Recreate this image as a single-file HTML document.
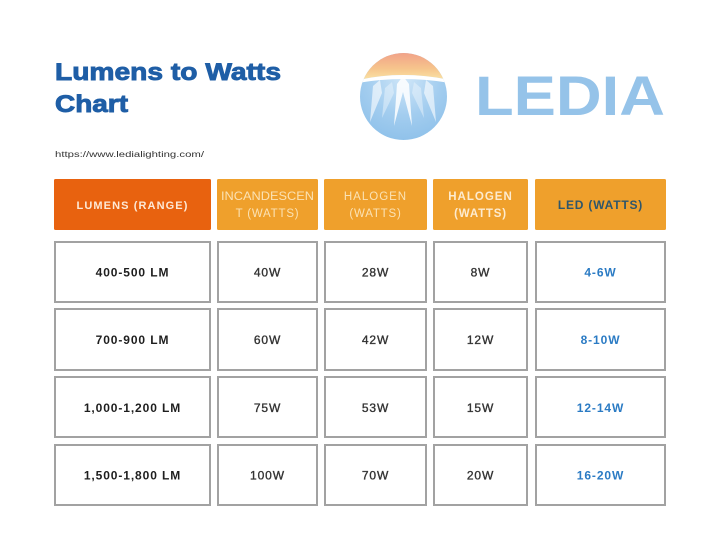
<!DOCTYPE html>
<html>
<head>
<meta charset="utf-8">
<style>
  html,body{margin:0;padding:0;background:#fff;}
  body{width:720px;height:539px;overflow:hidden;}
  svg{display:block;}
  text{font-family:"Liberation Sans",Arial,sans-serif;}
</style>
</head>
<body>
<svg width="720" height="539" viewBox="0 0 720 539" xmlns="http://www.w3.org/2000/svg">
  <defs>
    <linearGradient id="cap" x1="0" y1="0" x2="0" y2="1">
      <stop offset="0" stop-color="#f1a088"/>
      <stop offset="0.6" stop-color="#f6c58c"/>
      <stop offset="1" stop-color="#fae3a6"/>
    </linearGradient>
    <radialGradient id="blue" cx="0.5" cy="0.3" r="0.8">
      <stop offset="0" stop-color="#cfe6f8"/>
      <stop offset="0.5" stop-color="#a3cdef"/>
      <stop offset="1" stop-color="#88bde8"/>
    </radialGradient>
    <clipPath id="circ"><circle cx="403.5" cy="96.5" r="43.5"/></clipPath>
  </defs>

  <rect width="720" height="539" fill="#ffffff"/>

  <!-- Title -->
  <text x="55" y="80" font-size="24" font-weight="bold" fill="#1f5ea6" stroke="#1f5ea6" stroke-width="0.9" textLength="226" lengthAdjust="spacingAndGlyphs">Lumens to Watts</text>
  <text x="55" y="112" font-size="24" font-weight="bold" fill="#1f5ea6" stroke="#1f5ea6" stroke-width="0.9" textLength="73" lengthAdjust="spacingAndGlyphs">Chart</text>
  <text x="55" y="157" font-size="8" fill="#333" textLength="149" lengthAdjust="spacingAndGlyphs">https://www.ledialighting.com/</text>

  <!-- Logo circle -->
  <g clip-path="url(#circ)">
    <rect x="358" y="52" width="92" height="90" fill="url(#blue)"/>
    <path d="M358 52 H450 V80 Q403 70 358 80 Z" fill="url(#cap)"/>
    <path d="M358 80 Q403 70 450 80 L450 83 Q403 75 358 83 Z" fill="#ffffff"/>
    <!-- white rays -->
    <polygon points="403,76 397,84 394,126 403,92 412,126 409,84" fill="#ffffff" opacity="0.85"/>
    <polygon points="380,80 373,86 370,122 382,93" fill="#ffffff" opacity="0.6"/>
    <polygon points="426,80 433,86 436,122 424,93" fill="#ffffff" opacity="0.6"/>
    <polygon points="392,82 385,88 382,118 394,93" fill="#eaf4fc" opacity="0.5"/>
    <polygon points="414,82 421,88 424,118 412,93" fill="#eaf4fc" opacity="0.5"/>
  </g>
  <text x="475" y="115" font-size="56" font-weight="bold" fill="#95c3e9" textLength="190" lengthAdjust="spacingAndGlyphs">LEDIA</text>

  <!-- Header row -->
  <rect x="54" y="179" width="157" height="51" rx="1.5" fill="#e8620f"/>
  <rect x="217" y="179" width="101" height="51" rx="1.5" fill="#efa02c"/>
  <rect x="324" y="179" width="103" height="51" rx="1.5" fill="#efa02c"/>
  <rect x="433" y="179" width="95" height="51" rx="1.5" fill="#efa02c"/>
  <rect x="535" y="179" width="131" height="51" rx="1.5" fill="#efa02c"/>

  <text x="132.5" y="209" font-size="11" font-weight="bold" fill="#fde9d6" text-anchor="middle" letter-spacing="1.1">LUMENS  (RANGE)</text>
  <text x="267.5" y="200" font-size="11.5" fill="#fbe2b4" text-anchor="middle" textLength="93" lengthAdjust="spacingAndGlyphs">INCANDESCEN</text>
  <text x="267.5" y="217" font-size="11.5" fill="#fbe2b4" text-anchor="middle" letter-spacing="0.8">T (WATTS)</text>
  <text x="375.5" y="200" font-size="11.5" fill="#fbe2b4" text-anchor="middle" letter-spacing="1">HALOGEN</text>
  <text x="375.5" y="217" font-size="11.5" fill="#fbe2b4" text-anchor="middle" letter-spacing="0.8">(WATTS)</text>
  <text x="480.5" y="200" font-size="11.5" font-weight="bold" fill="#fdebcf" text-anchor="middle" letter-spacing="1">HALOGEN</text>
  <text x="480.5" y="217" font-size="11.5" font-weight="bold" fill="#fdebcf" text-anchor="middle" letter-spacing="0.8">(WATTS)</text>
  <text x="600.5" y="209" font-size="12" font-weight="bold" fill="#2e566b" text-anchor="middle" letter-spacing="0.8">LED (WATTS)</text>

  <!-- Body cells -->
  <g fill="#ffffff" stroke="#a2a2a2" stroke-width="2">
    <rect x="55" y="242" width="155" height="60"/>
    <rect x="218" y="242" width="99" height="60"/>
    <rect x="325" y="242" width="101" height="60"/>
    <rect x="434" y="242" width="93" height="60"/>
    <rect x="536" y="242" width="129" height="60"/>

    <rect x="55" y="309" width="155" height="61"/>
    <rect x="218" y="309" width="99" height="61"/>
    <rect x="325" y="309" width="101" height="61"/>
    <rect x="434" y="309" width="93" height="61"/>
    <rect x="536" y="309" width="129" height="61"/>

    <rect x="55" y="377" width="155" height="60"/>
    <rect x="218" y="377" width="99" height="60"/>
    <rect x="325" y="377" width="101" height="60"/>
    <rect x="434" y="377" width="93" height="60"/>
    <rect x="536" y="377" width="129" height="60"/>

    <rect x="55" y="445" width="155" height="60"/>
    <rect x="218" y="445" width="99" height="60"/>
    <rect x="325" y="445" width="101" height="60"/>
    <rect x="434" y="445" width="93" height="60"/>
    <rect x="536" y="445" width="129" height="60"/>
  </g>

  <!-- Row texts -->
  <g font-size="12" text-anchor="middle" letter-spacing="0.9">
    <g font-weight="bold" fill="#1e1e1e">
      <text x="132.5" y="276.5">400-500 LM</text>
      <text x="132.5" y="344">700-900 LM</text>
      <text x="132.5" y="412">1,000-1,200 LM</text>
      <text x="132.5" y="479.5">1,500-1,800 LM</text>
    </g>
    <g fill="#333333" stroke="#333333" stroke-width="0.35">
      <text x="267.5" y="276.5">40W</text>
      <text x="375.5" y="276.5">28W</text>
      <text x="480.5" y="276.5">8W</text>
      <text x="267.5" y="344">60W</text>
      <text x="375.5" y="344">42W</text>
      <text x="480.5" y="344">12W</text>
      <text x="267.5" y="412">75W</text>
      <text x="375.5" y="412">53W</text>
      <text x="480.5" y="412">15W</text>
      <text x="267.5" y="479.5">100W</text>
      <text x="375.5" y="479.5">70W</text>
      <text x="480.5" y="479.5">20W</text>
    </g>
    <g font-weight="bold" fill="#2b7bc4">
      <text x="600.5" y="276.5">4-6W</text>
      <text x="600.5" y="344">8-10W</text>
      <text x="600.5" y="412">12-14W</text>
      <text x="600.5" y="479.5">16-20W</text>
    </g>
  </g>
</svg>
</body>
</html>
